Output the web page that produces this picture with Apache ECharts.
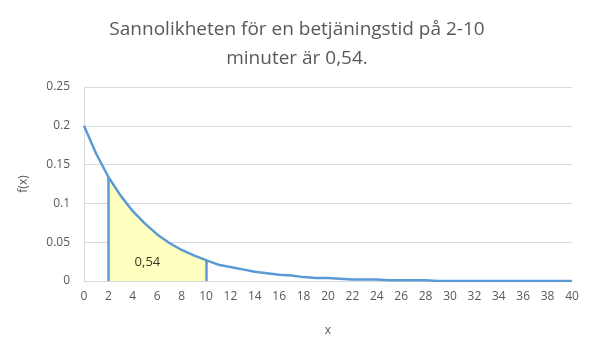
<!DOCTYPE html>
<html lang="sv">
<head>
    <meta charset="UTF-8">
    <title>Sannolikhet betjäningstid</title>
    <script src="https://cdn.jsdelivr.net/npm/echarts@6.0.0/dist/echarts.min.js"></script>
    <style>
        html, body { margin: 0; padding: 0; background: #fff; }
        #chart { width: 594px; height: 354px; }
    </style>
</head>
<body>
    <div id="chart"></div>
    <script>
        // x-värden (minuter) och avlästa f(x)
        const xValues = [0, 1, 2, 3, 4, 5, 6, 7, 8, 9, 10, 11, 12, 13, 14, 15, 16, 17, 18, 19, 20,
                         21, 22, 23, 24, 25, 26, 27, 28, 29, 30, 31, 32, 33, 34, 35, 36, 37, 38, 39, 40];
        const fValues = [0.2, 0.164, 0.134, 0.11, 0.09, 0.074, 0.06, 0.049, 0.04, 0.033, 0.027,
                         0.021, 0.018, 0.015, 0.012, 0.01, 0.008, 0.007, 0.005, 0.004, 0.004,
                         0.003, 0.002, 0.002, 0.002, 0.001, 0.001, 0.001, 0.001, 0, 0,
                         0, 0, 0, 0, 0, 0, 0, 0, 0, 0];
        const areaFrom = 2;
        const areaTo = 10;
        const areaLabel = '0,54';
        const areaLabelPos = [5.2, 0.024];
        const titleText = 'Sannolikheten för en betjäningstid på 2-10\nminuter är 0,54.';

        const curve = xValues.map((x, i) => [x, fValues[i]]);
        const shaded = curve.filter(p => p[0] >= areaFrom && p[0] <= areaTo);
        const yAt = x => fValues[xValues.indexOf(x)];

        const blue = '#5B9BD5';
        const textColor = '#595959';
        const font = 'Open Sans';

        const chart = echarts.init(document.getElementById('chart'));
        chart.setOption({
            animation: false,
            title: {
                text: titleText,
                left: 'center',
                top: 10,
                textStyle: {
                    fontFamily: font,
                    fontSize: 19,
                    fontWeight: 'normal',
                    color: textColor,
                    lineHeight: 29
                }
            },
            grid: { left: 84, right: 22, top: 87, bottom: 73 },
            xAxis: {
                type: 'value',
                min: 0,
                max: 40,
                interval: 2,
                name: 'x',
                nameLocation: 'middle',
                nameGap: 44,
                nameTextStyle: { color: textColor, fontFamily: font, fontSize: 12 },
                axisLine: { lineStyle: { color: '#D9D9D9' } },
                axisTick: { show: false },
                axisLabel: { color: textColor, fontFamily: font, fontSize: 12, margin: 10 },
                splitLine: { show: false }
            },
            yAxis: {
                type: 'value',
                min: 0,
                max: 0.25,
                interval: 0.05,
                name: 'f(x)',
                nameLocation: 'middle',
                nameGap: 54,
                nameTextStyle: { color: textColor, fontFamily: font, fontSize: 12 },
                axisLine: { show: true, lineStyle: { color: '#D9D9D9' } },
                axisTick: { show: false },
                axisLabel: { color: textColor, fontFamily: font, fontSize: 12, margin: 14 },
                splitLine: { lineStyle: { color: '#D9D9D9' } }
            },
            series: [
                {
                    type: 'line',
                    data: shaded,
                    showSymbol: false,
                    lineStyle: { width: 0 },
                    areaStyle: { color: '#FFFFC0', opacity: 1 },
                    z: 1,
                    markLine: {
                        silent: true,
                        symbol: 'none',
                        label: { show: false },
                        lineStyle: { color: blue, width: 2.5, type: 'solid' },
                        data: [
                            [{ coord: [areaFrom, 0] }, { coord: [areaFrom, yAt(areaFrom)] }],
                            [{ coord: [areaTo, 0] }, { coord: [areaTo, yAt(areaTo)] }]
                        ]
                    }
                },
                {
                    type: 'line',
                    data: curve,
                    showSymbol: false,
                    lineStyle: { color: blue, width: 2.5 },
                    z: 3
                },
                {
                    type: 'scatter',
                    data: [areaLabelPos],
                    symbolSize: 1,
                    itemStyle: { color: 'rgba(0,0,0,0)' },
                    silent: true,
                    z: 4,
                    label: {
                        show: true,
                        position: 'inside',
                        formatter: areaLabel,
                        color: '#000',
                        fontFamily: font,
                        fontSize: 13
                    }
                }
            ]
        });
    </script>
</body>
</html>
